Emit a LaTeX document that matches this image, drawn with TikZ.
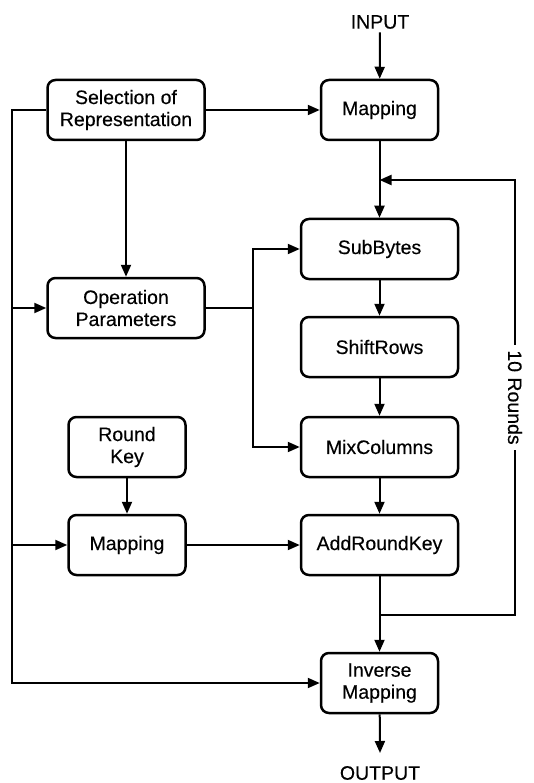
\documentclass[tikz,border=0pt]{standalone}
\usepackage{fontspec}
\setmainfont{Liberation Sans}[FakeBold=0.3]
\usetikzlibrary{arrows.meta,positioning}

\tikzset{
	block/.style={draw, line width=2.5pt, rounded corners=8pt, align=center, minimum height=60pt, inner sep=2pt},
	wideblock/.style={block, minimum width=157pt},
	midblock/.style={block, minimum width=117pt},
	flow/.style={line width=2pt, -{Triangle[length=12pt,width=10pt]}},
	wire/.style={line width=2pt},
}

\begin{document}
\begin{tikzpicture}[x=1pt,y=-1pt,font=\fontsize{19.5}{22}\selectfont]
	\path[use as bounding box] (0,0) rectangle (533,783);

	% right column
	\node (input) at (380,22) {INPUT};
	\node[midblock] (map) at (379.5,110) {Mapping};
	\node[wideblock] (subb) at (379.5,249) {SubBytes};
	\node[wideblock] (shift) at (379.5,347) {ShiftRows};
	\node[wideblock] (mix) at (379.5,447) {MixColumns};
	\node[wideblock] (ark) at (379.5,545) {AddRoundKey};
	\node[midblock] (inv) at (379.5,683) {Inverse\\Mapping};
	\node (output) at (380,773) {OUTPUT};

	% left column
	\node[wideblock] (sel) at (126,110) {Selection of\\Representation};
	\node[wideblock] (op) at (126,308) {Operation\\Parameters};
	\node[midblock] (rkey) at (127,447) {Round\\Key};
	\node[midblock] (map2) at (127,545) {Mapping};

	% helper points
	\coordinate (left) at (12,110);
	\coordinate (split) at (253,308);
	\coordinate (join) at (379.5,180);
	\coordinate (loop) at (379.5,615);
	\coordinate (back) at (515,615);
	\coordinate (outend) at (380,753);

	% main path
	\draw[flow] (input) -- (map);
	\draw[wire] (map) -- (join);
	\draw[flow] (join) -- (subb);
	\draw[flow] (subb) -- (shift);
	\draw[flow] (shift) -- (mix);
	\draw[flow] (mix) -- (ark);
	\draw[flow] (ark) -- (inv);
	\draw[flow] (inv) -- (outend);

	% rounds loop
	\draw[flow] (loop) -- (back) -- node[fill=white, rotate=-90, inner sep=5pt] {10 Rounds} (back |- join) -- (join);

	% representation and parameters
	\draw[flow] (sel) -- (map);
	\draw[flow] (sel) -- (op);
	\draw[flow] (sel.west) -- (left) |- (inv.west);
	\draw[flow] (left |- op) -- (op);
	\draw[flow] (left |- map2) -- (map2);
	\draw[wire] (op) -- (split);
	\draw[flow] (split) |- (subb.west);
	\draw[flow] (split) |- (mix.west);

	% round key
	\draw[flow] (rkey) -- (map2);
	\draw[flow] (map2) -- (ark);
\end{tikzpicture}
\end{document}
